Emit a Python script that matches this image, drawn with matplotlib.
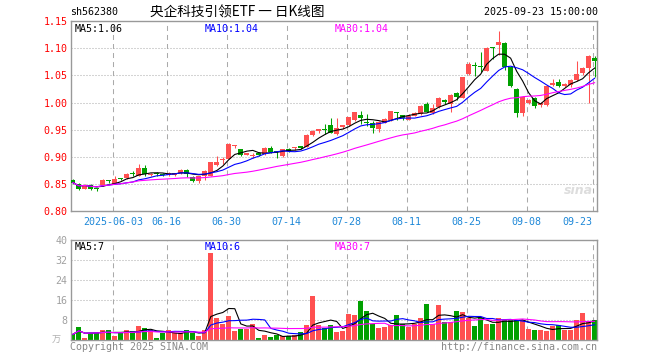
import numpy as np
import pandas as pd
import matplotlib
matplotlib.use("Agg")
import matplotlib.pyplot as plt

plt.rcParams['lines.scale_dashes'] = False

# ---------------- data ----------------
code = "sh562380"
title = "央企科技引领ETF 一 日K线图"
timestamp = "2025-09-23 15:00:00"
start_date = "2025-05-22"
end_date = "2025-09-23"
holidays = ["2025-06-02"]
tick_dates = ["2025-06-03", "2025-06-16", "2025-06-30", "2025-07-14", "2025-07-28",
              "2025-08-11", "2025-08-25", "2025-09-08", "2025-09-23"]
tick_labels = ["2025-06-03", "06-16", "06-30", "07-14", "07-28",
               "08-11", "08-25", "09-08", "09-23"]

opens = [0.858, 0.850, 0.842, 0.849, 0.842, 0.848, 0.856, 0.851, 0.861, 0.861,
         0.871, 0.866, 0.880, 0.867, 0.870, 0.869, 0.867, 0.867, 0.870, 0.877,
         0.864, 0.855, 0.865, 0.866, 0.886, 0.895, 0.897, 0.921, 0.914, 0.904,
         0.902, 0.908, 0.905, 0.917, 0.911, 0.901, 0.914, 0.917, 0.920, 0.919,
         0.941, 0.948, 0.951, 0.959, 0.942, 0.955, 0.958, 0.969, 0.977, 0.964,
         0.963, 0.951, 0.963, 0.968, 0.982, 0.977, 0.969, 0.976, 0.979, 0.998,
         0.981, 0.992, 1.004, 0.997, 1.017, 1.009, 1.053, 1.069, 1.068, 1.059,
         1.102, 1.106, 1.109, 1.065, 1.025, 0.981, 1.000, 1.009, 0.995, 0.995,
         1.032, 1.038, 1.031, 1.032, 1.042, 1.055, 1.063, 1.083]
highs = [0.860, 0.852, 0.850, 0.850, 0.843, 0.859, 0.858, 0.866, 0.862, 0.870,
         0.875, 0.887, 0.886, 0.871, 0.872, 0.870, 0.873, 0.871, 0.878, 0.878,
         0.865, 0.866, 0.876, 0.891, 0.902, 0.900, 0.925, 0.923, 0.915, 0.908,
         0.908, 0.909, 0.918, 0.920, 0.912, 0.915, 0.916, 0.919, 0.921, 0.942,
         0.949, 0.952, 0.960, 0.971, 0.972, 0.959, 0.974, 0.983, 0.984, 0.979,
         0.967, 0.966, 0.971, 0.985, 0.983, 0.978, 0.980, 0.982, 0.996, 1.002,
         0.997, 1.010, 1.007, 1.016, 1.020, 1.048, 1.075, 1.075, 1.093, 1.102,
         1.103, 1.132, 1.112, 1.067, 1.027, 1.013, 1.006, 1.011, 1.002, 1.032,
         1.044, 1.043, 1.036, 1.043, 1.077, 1.065, 1.087, 1.086]
lows = [0.850, 0.840, 0.841, 0.839, 0.838, 0.846, 0.853, 0.850, 0.857, 0.860,
        0.866, 0.865, 0.866, 0.865, 0.866, 0.865, 0.866, 0.866, 0.869, 0.863,
        0.854, 0.853, 0.858, 0.865, 0.883, 0.888, 0.896, 0.916, 0.902, 0.903,
        0.899, 0.902, 0.904, 0.908, 0.899, 0.900, 0.910, 0.913, 0.915, 0.918,
        0.938, 0.945, 0.942, 0.944, 0.941, 0.951, 0.957, 0.967, 0.960, 0.957,
        0.944, 0.946, 0.962, 0.967, 0.968, 0.968, 0.968, 0.975, 0.978, 0.982,
        0.980, 0.990, 0.998, 0.982, 1.005, 1.008, 1.050, 1.049, 1.056, 1.058,
        1.080, 1.087, 1.060, 1.028, 0.973, 0.975, 0.997, 0.990, 0.992, 0.993,
        1.030, 1.028, 1.028, 1.029, 1.040, 1.050, 0.999, 1.047]
closes = [0.853, 0.841, 0.849, 0.842, 0.841, 0.858, 0.855, 0.860, 0.859, 0.868,
          0.869, 0.880, 0.868, 0.869, 0.869, 0.867, 0.871, 0.870, 0.877, 0.869,
          0.856, 0.865, 0.874, 0.890, 0.891, 0.897, 0.924, 0.922, 0.904, 0.907,
          0.904, 0.903, 0.917, 0.909, 0.910, 0.914, 0.912, 0.918, 0.916, 0.941,
          0.948, 0.951, 0.950, 0.945, 0.953, 0.958, 0.973, 0.982, 0.971, 0.963,
          0.954, 0.965, 0.970, 0.984, 0.981, 0.971, 0.976, 0.981, 0.994, 0.983,
          0.991, 1.009, 1.002, 1.015, 1.010, 1.047, 1.072, 1.067, 1.066, 1.101,
          1.100, 1.112, 1.066, 1.030, 0.981, 1.010, 1.004, 0.993, 1.000, 1.030,
          1.037, 1.030, 1.034, 1.041, 1.052, 1.063, 1.085, 1.077]
volumes = [2.4, 5.2, 0.9, 3.1, 3.1, 4.0, 4.0, 1.6, 3.1, 4.0,
           3.6, 5.6, 4.8, 4.0, 0.8, 2.8, 4.0, 3.1, 2.8, 4.0,
           3.1, 1.6, 4.0, 34.8, 8.8, 6.4, 9.6, 3.6, 4.4, 4.4,
           6.7, 0.8, 2.0, 1.2, 2.0, 1.6, 1.6, 2.0, 3.2, 6.0,
           17.6, 6.0, 4.8, 6.0, 3.2, 3.7, 10.4, 10.0, 15.7, 11.6,
           6.4, 4.8, 5.3, 6.0, 10.0, 6.4, 5.2, 6.4, 8.8, 14.4,
           6.4, 14.0, 7.2, 7.2, 11.6, 11.2, 8.8, 5.6, 8.8, 6.4,
           6.4, 8.8, 8.0, 8.0, 8.0, 8.0, 4.4, 4.0, 4.0, 3.6,
           5.6, 6.0, 4.3, 4.3, 8.0, 10.8, 7.6, 8.0]
price_ticks = [0.80, 0.85, 0.90, 0.95, 1.00, 1.05, 1.10, 1.15]
vol_ticks = [8, 16, 24, 32, 40]

# ---------------- derived ----------------
dates = [d for d in pd.bdate_range(start_date, end_date) if d.strftime("%Y-%m-%d") not in holidays]
date_str = [d.strftime("%Y-%m-%d") for d in dates]
x = np.arange(len(dates))
o = np.array(opens); h = np.array(highs); l = np.array(lows); c = np.array(closes)
v = np.array(volumes)
up = c >= o
RED, GREEN = '#ff5050', '#00a000'
cols = np.where(up, RED, GREEN)
cs = pd.Series(c); vs = pd.Series(v)
ma5, ma10, ma30 = [cs.rolling(n, min_periods=1).mean() for n in (5, 10, 30)]
vma5, vma10, vma30 = [vs.rolling(n, min_periods=1).mean() for n in (5, 10, 30)]
tick_idx = [date_str.index(d) for d in tick_dates]
grid_x = [i - 0.33 for i in tick_idx]

# ---------------- figure ----------------
W, H = 660, 360
fig = plt.figure(figsize=(6.6, 3.6), dpi=100)
fig.patch.set_facecolor('white')
L_, R_ = 70.5, 597.0
ax = fig.add_axes([L_ / W, 1 - 211.4 / H, (R_ - L_) / W, (211.4 - 21.1) / H])
axv = fig.add_axes([L_ / W, 1 - 340.3 / H, (R_ - L_) / W, 100.0 / H])

MONO = 'DejaVu Sans Mono'
FS = 7.2
GRID = '#aaaaaa'
for a in (ax, axv):
    a.set_xlim(-0.4, 87.4)
    for s in a.spines.values():
        s.set_color('#999999'); s.set_linewidth(1.0)
    for gx in grid_x:
        a.axvline(gx, color=GRID, lw=0.75, ls=(0, (3.6, 2.9)), zorder=0)
    a.tick_params(length=0)

# price panel
ax.set_ylim(0.80, 1.15)
for p in price_ticks[1:-1]:
    ax.axhline(p, color=GRID, lw=0.75, ls=(0, (0.72, 1.44)), zorder=0)
body_min = 0.0019
ax.vlines(x, l, h, colors=cols, lw=0.75, zorder=2)
ax.bar(x, np.maximum(np.abs(c - o), body_min), bottom=np.minimum(o, c), width=0.8,
       color=cols, linewidth=0, zorder=3)
ax.plot(x, ma5, color='black', lw=0.8, zorder=4)
ax.plot(x, ma10, color='#0000ff', lw=0.8, zorder=4)
ax.plot(x, ma30, color='#ff00ff', lw=0.8, zorder=4)
ax.set_yticks(price_ticks)
ax.set_yticklabels([f"{p:.2f}" for p in price_ticks], color='#ff0000',
                   fontsize=FS, family=MONO)
ax.tick_params(axis='y', pad=2.2)
ax.set_xticks(grid_x)
ax.set_xticklabels(tick_labels, color='#1e88d8', fontsize=FS, family=MONO)
ax.tick_params(axis='x', pad=4.0)
ax.get_xticklabels()[-1].set_ha('right')

# volume panel
axv.set_ylim(0, 40)
for t in vol_ticks[:-1]:
    axv.axhline(t, color=GRID, lw=0.75, ls=(0, (0.72, 1.44)), zorder=0)
axv.bar(x, v, width=0.8, color=cols, linewidth=0, zorder=2)
axv.plot(x, vma5, color='black', lw=0.8, zorder=4)
axv.plot(x, vma10, color='#0000ff', lw=0.8, zorder=4)
axv.plot(x, vma30, color='#ff00ff', lw=0.8, zorder=4)
axv.set_yticks(vol_ticks)
axv.set_yticklabels([str(t) for t in vol_ticks], color='#a0a0a0', fontsize=FS, family=MONO)
axv.tick_params(axis='y', pad=2.2)
axv.set_xticks([])

def ftext(px, py, s, **kw):
    kw.setdefault('fontsize', FS)
    kw.setdefault('family', MONO)
    fig.text(px / W, 1 - py / H, s, **kw)

# header
ftext(70, 12, code, ha='left', va='center', color='black')
ftext(237, 12, title, ha='center', va='center', color='black', fontsize=9.8,
      family=['Noto Sans CJK SC', 'DejaVu Sans'])
ftext(598, 12, timestamp, ha='right', va='center', color='black')

# legends
ftext(75, 28.5, f"MA5:{ma5.iloc[-1]:.2f}", ha='left', va='center', color='black')
ftext(205, 28.5, f"MA10:{ma10.iloc[-1]:.2f}", ha='left', va='center', color='#0000ff')
ftext(335, 28.5, f"MA30:{ma30.iloc[-1]:.2f}", ha='left', va='center', color='#ff00ff')
ftext(75, 247, f"MA5:{int(vma5.iloc[-1])}", ha='left', va='center', color='black')
ftext(205, 247, f"MA10:{int(vma10.iloc[-1])}", ha='left', va='center', color='#0000ff')
ftext(335, 247, f"MA30:{int(vma30.iloc[-1])}", ha='left', va='center', color='#ff00ff')

# footer
ftext(56, 340, "万", ha='center', va='center', color='#b0b0b0',
      family=['Noto Sans CJK SC', 'DejaVu Sans'], fontsize=6.5)
ftext(70, 347, "Copyright 2025 SINA.COM", ha='left', va='center', color='#888888')
ftext(597, 347, "http://finance.sina.com.cn", ha='right', va='center', color='#888888')
ftext(578, 190, "sina", ha='center', va='center', color='#dddddd', fontsize=9,
      family='DejaVu Sans', style='italic', fontweight='bold')

fig.savefig("out.png", dpi=100, facecolor='white')
